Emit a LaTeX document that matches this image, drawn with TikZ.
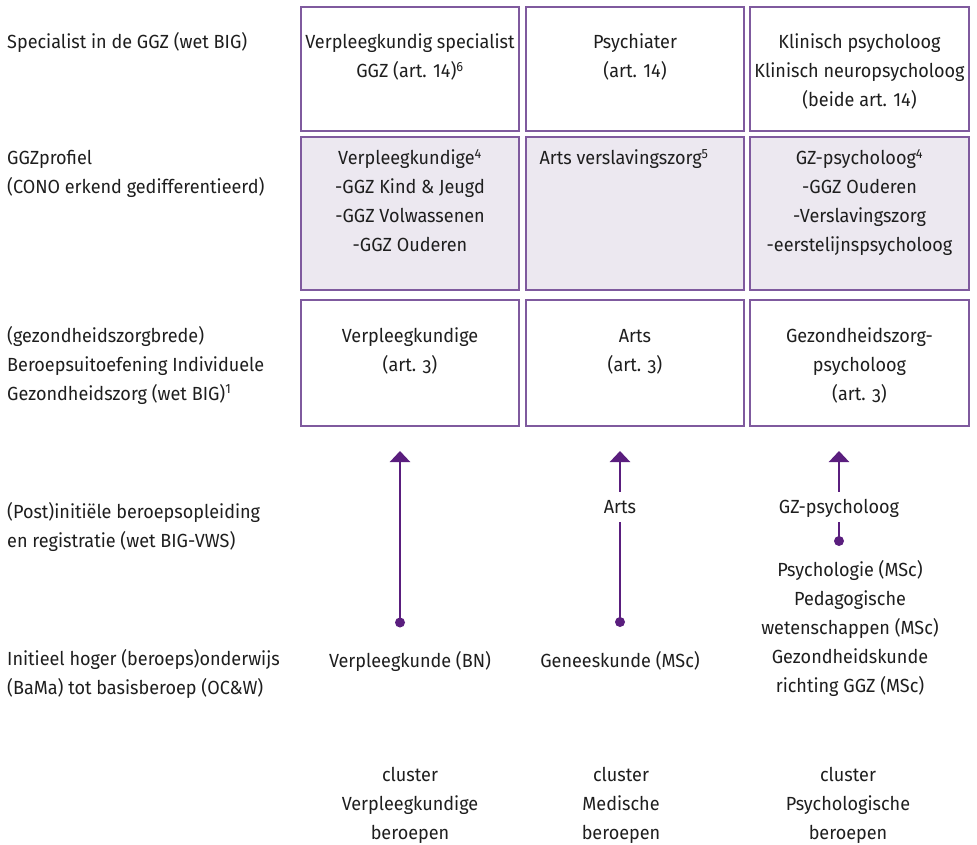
\documentclass[tikz,border=0pt]{standalone}
\usepackage{fontspec}
\setmainfont{Fira Sans}[FakeStretch=0.95]
\usetikzlibrary{arrows.meta}
\definecolor{bord}{HTML}{7F5A9E}
\definecolor{arrc}{HTML}{5A1E7E}
\definecolor{fillc}{HTML}{ECE8F0}
\definecolor{txt}{HTML}{1E1E1E}
\newcommand{\mlc}[1]{\begin{tabular}[t]{@{}c@{}}#1\end{tabular}}
\newcommand{\mll}[1]{\begin{tabular}[t]{@{}l@{}}#1\end{tabular}}
\newcommand{\sups}[1]{\textsuperscript{#1}}
\newcommand{\osf}[1]{{\addfontfeatures{Numbers=OldStyle}#1}}
\begin{document}
\begin{tikzpicture}[x=1pt,y=-1pt,
  font=\fontsize{19}{29}\selectfont,
  box/.style={draw=bord, line width=2pt, inner sep=0pt, fill=white},
  pbox/.style={box, fill=fillc},
  tx/.style={inner sep=0pt, anchor=base, text=txt},
  lt/.style={inner sep=0pt, anchor=base west, text=txt},
  onl/.style={inner sep=0pt, text=txt, minimum height=30pt, text height=13pt, text depth=0pt},
  dotn/.style={circle, fill=arrc, inner sep=0pt, minimum size=10pt},
  conn/.style={draw=arrc, line width=2.5pt},
  arr/.style={conn, -{Triangle[width=20pt,length=11pt]}}
]
\useasboundingbox (0,0) rectangle (977,845);

% boxes
\node[box, minimum width=218pt, minimum height=124pt] (b11) at (410,69) {};
\node[box, minimum width=218pt, minimum height=124pt] (b12) at (635,69) {};
\node[box, minimum width=219pt, minimum height=124pt] (b13) at (859.5,69) {};
\node[pbox, minimum width=218pt, minimum height=153pt] (b21) at (410,213.5) {};
\node[pbox, minimum width=218pt, minimum height=153pt] (b22) at (635,213.5) {};
\node[pbox, minimum width=219pt, minimum height=153pt] (b23) at (859.5,213.5) {};
\node[box, minimum width=218pt, minimum height=126pt] (b31) at (410,363) {};
\node[box, minimum width=218pt, minimum height=126pt] (b32) at (635,363) {};
\node[box, minimum width=219pt, minimum height=126pt] (b33) at (859.5,363) {};

% left labels
\node[lt] (l1) at (7,49) {Specialist in de GGZ (wet BIG)};
\node[lt] (l2) at (7,165) {\mll{GGZprofiel\\(CONO erkend gedifferentieerd)}};
\node[lt] (l3) at (7,342) {\mll{(gezondheidszorgbrede)\\Beroepsuitoefening Individuele\\Gezondheidszorg (wet BIG)\sups{1}}};
\node[lt] (l4) at (7,518) {\mll{(Post)initiële beroepsopleiding\\en registratie (wet BIG-VWS)}};
\node[lt] (l5) at (7,665) {\mll{Initieel hoger (beroeps)onderwijs\\(BaMa) tot basisberoep (OC\&W)}};

% row 1 texts
\node[tx] (t11) at (410,49) {\mlc{Verpleegkundig specialist\\GGZ (art. 14)\sups{6}}};
\node[tx] (t12) at (635,49) {\mlc{Psychiater\\(art. 14)}};
\node[tx] (t13) at (859.5,49) {\mlc{Klinisch psycholoog\\Klinisch neuropsycholoog\\(beide art. 14)}};

% row 2 texts
\node[tx] (t21) at (410,165) {\mlc{Verpleegkundige\sups{4}\\-GGZ Kind \& Jeugd\\-GGZ Volwassenen\\-GGZ Ouderen}};
\node[tx] (t22) at (624,165) {Arts verslavingszorg\sups{5}};
\node[tx] (t23) at (859.5,165) {\mlc{GZ-psycholoog\sups{4}\\-GGZ Ouderen\\-Verslavingszorg\\-eerstelijnspsycholoog}};

% row 3 texts
\node[tx] (t31) at (410,342) {\mlc{Verpleegkundige\\(art. \osf{3})}};
\node[tx] (t32) at (635,342) {\mlc{Arts\\(art. \osf{3})}};
\node[tx] (t33) at (859.5,342) {\mlc{Gezondheidszorg-\\psycholoog\\(art. \osf{3})}};

% arrows
\coordinate (p1) at (400,451);
\coordinate (p2) at (620,451);
\coordinate (p3) at (839,451);
\node[dotn] (d1) at (400,622.5) {};
\node[dotn] (d2) at (620,622) {};
\node[dotn] (d3) at (839,541) {};
\node[onl] (a2) at (620,507) {Arts};
\node[onl] (a3) at (839,507) {GZ-psycholoog};
\draw[arr] (d1.center) -- (p1);
\draw[arr] (a2) -- (p2);
\draw[conn] (d2.center) -- (a2);
\draw[arr] (a3) -- (p3);
\draw[conn] (d3.center) -- (a3);

% bottom texts
\node[tx] (e1) at (410,667) {Verpleegkunde (BN)};
\node[tx] (e2) at (620,667) {Geneeskunde (MSc)};
\node[tx] (e3) at (850,576) {\mlc{Psychologie (MSc)\\Pedagogische\\wetenschappen (MSc)\\Gezondheidskunde\\richting GGZ (MSc)}};

% clusters
\node[tx] (c1) at (410,781) {\mlc{cluster\\Verpleegkundige\\beroepen}};
\node[tx] (c2) at (621,781) {\mlc{cluster\\Medische\\beroepen}};
\node[tx] (c3) at (848,781) {\mlc{cluster\\Psychologische\\beroepen}};
\end{tikzpicture}
\end{document}
